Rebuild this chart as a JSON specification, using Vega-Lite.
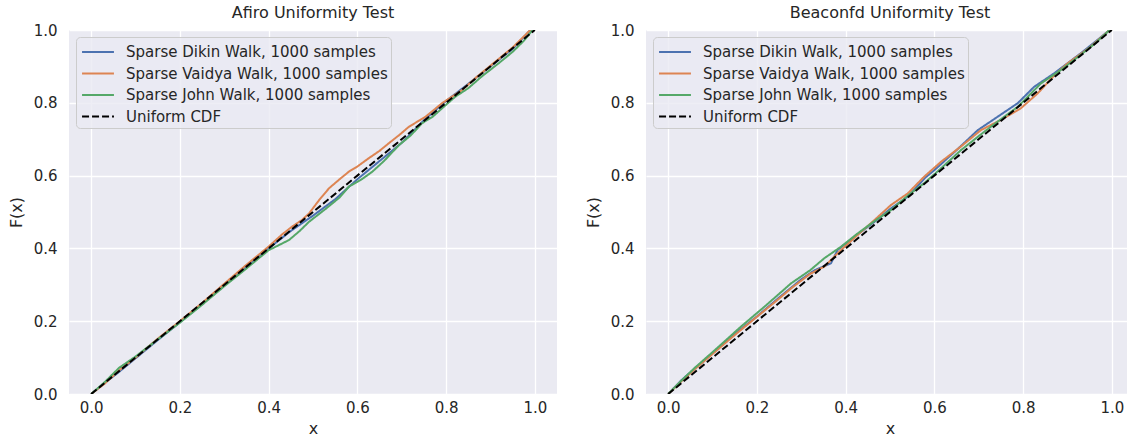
{
  "$schema": "https://vega.github.io/schema/vega-lite/v6.json",
  "background": "white",
  "padding": {"left": 8, "top": 5, "right": 0, "bottom": 0},
  "config": {
    "font": "DejaVu Sans",
    "view": {"fill": "#eaeaf2", "stroke": null},
    "axis": {"grid": true, "gridColor": "white", "gridWidth": 1.3, "domain": false, "ticks": false, "labelFontSize": 15, "labelColor": "#262626", "titleFontSize": 16, "titleFontWeight": "normal", "titleColor": "#262626"},
    "axisX": {"labelPadding": 6, "titlePadding": 5},
    "axisY": {"labelPadding": 12, "titlePadding": 9},
    "title": {"fontSize": 16, "fontWeight": "normal", "color": "#262626", "offset": 2},
    "legend": {"orient": "top-left", "offset": 7, "fillColor": "rgba(234,234,242,0.8)", "strokeColor": "#cccccc", "cornerRadius": 4, "padding": 3, "symbolOffset": 7, "labelFontSize": 15, "labelColor": "#262626", "labelLimit": 400, "symbolType": "M-1.45,0H1.45", "symbolStrokeWidth": 2, "symbolSize": 484, "rowPadding": 1.5, "labelOffset": 16}
  },
  "datasets": {
    "cdf": [
      {"panel": "Afiro", "series": "Sparse Dikin Walk, 1000 samples", "x": 0, "y": 0},
      {"panel": "Afiro", "series": "Sparse Dikin Walk, 1000 samples", "x": 0.03, "y": 0.03},
      {"panel": "Afiro", "series": "Sparse Dikin Walk, 1000 samples", "x": 0.06, "y": 0.058},
      {"panel": "Afiro", "series": "Sparse Dikin Walk, 1000 samples", "x": 0.1, "y": 0.098},
      {"panel": "Afiro", "series": "Sparse Dikin Walk, 1000 samples", "x": 0.15, "y": 0.148},
      {"panel": "Afiro", "series": "Sparse Dikin Walk, 1000 samples", "x": 0.2, "y": 0.197},
      {"panel": "Afiro", "series": "Sparse Dikin Walk, 1000 samples", "x": 0.25, "y": 0.247},
      {"panel": "Afiro", "series": "Sparse Dikin Walk, 1000 samples", "x": 0.3, "y": 0.298},
      {"panel": "Afiro", "series": "Sparse Dikin Walk, 1000 samples", "x": 0.35, "y": 0.35},
      {"panel": "Afiro", "series": "Sparse Dikin Walk, 1000 samples", "x": 0.4, "y": 0.4},
      {"panel": "Afiro", "series": "Sparse Dikin Walk, 1000 samples", "x": 0.45, "y": 0.448},
      {"panel": "Afiro", "series": "Sparse Dikin Walk, 1000 samples", "x": 0.5, "y": 0.49},
      {"panel": "Afiro", "series": "Sparse Dikin Walk, 1000 samples", "x": 0.55, "y": 0.535},
      {"panel": "Afiro", "series": "Sparse Dikin Walk, 1000 samples", "x": 0.6, "y": 0.59},
      {"panel": "Afiro", "series": "Sparse Dikin Walk, 1000 samples", "x": 0.625, "y": 0.615},
      {"panel": "Afiro", "series": "Sparse Dikin Walk, 1000 samples", "x": 0.65, "y": 0.64},
      {"panel": "Afiro", "series": "Sparse Dikin Walk, 1000 samples", "x": 0.7, "y": 0.69},
      {"panel": "Afiro", "series": "Sparse Dikin Walk, 1000 samples", "x": 0.75, "y": 0.752},
      {"panel": "Afiro", "series": "Sparse Dikin Walk, 1000 samples", "x": 0.8, "y": 0.805},
      {"panel": "Afiro", "series": "Sparse Dikin Walk, 1000 samples", "x": 0.85, "y": 0.852},
      {"panel": "Afiro", "series": "Sparse Dikin Walk, 1000 samples", "x": 0.9, "y": 0.9},
      {"panel": "Afiro", "series": "Sparse Dikin Walk, 1000 samples", "x": 0.95, "y": 0.948},
      {"panel": "Afiro", "series": "Sparse Dikin Walk, 1000 samples", "x": 0.99, "y": 1.0},
      {"panel": "Afiro", "series": "Sparse Vaidya Walk, 1000 samples", "x": 0, "y": 0},
      {"panel": "Afiro", "series": "Sparse Vaidya Walk, 1000 samples", "x": 0.03, "y": 0.028},
      {"panel": "Afiro", "series": "Sparse Vaidya Walk, 1000 samples", "x": 0.06, "y": 0.062},
      {"panel": "Afiro", "series": "Sparse Vaidya Walk, 1000 samples", "x": 0.1, "y": 0.1},
      {"panel": "Afiro", "series": "Sparse Vaidya Walk, 1000 samples", "x": 0.15, "y": 0.152},
      {"panel": "Afiro", "series": "Sparse Vaidya Walk, 1000 samples", "x": 0.2, "y": 0.2},
      {"panel": "Afiro", "series": "Sparse Vaidya Walk, 1000 samples", "x": 0.25, "y": 0.25},
      {"panel": "Afiro", "series": "Sparse Vaidya Walk, 1000 samples", "x": 0.3, "y": 0.303},
      {"panel": "Afiro", "series": "Sparse Vaidya Walk, 1000 samples", "x": 0.35, "y": 0.355},
      {"panel": "Afiro", "series": "Sparse Vaidya Walk, 1000 samples", "x": 0.4, "y": 0.405},
      {"panel": "Afiro", "series": "Sparse Vaidya Walk, 1000 samples", "x": 0.43, "y": 0.438},
      {"panel": "Afiro", "series": "Sparse Vaidya Walk, 1000 samples", "x": 0.453, "y": 0.46},
      {"panel": "Afiro", "series": "Sparse Vaidya Walk, 1000 samples", "x": 0.475, "y": 0.478},
      {"panel": "Afiro", "series": "Sparse Vaidya Walk, 1000 samples", "x": 0.491, "y": 0.496},
      {"panel": "Afiro", "series": "Sparse Vaidya Walk, 1000 samples", "x": 0.514, "y": 0.533},
      {"panel": "Afiro", "series": "Sparse Vaidya Walk, 1000 samples", "x": 0.536, "y": 0.565},
      {"panel": "Afiro", "series": "Sparse Vaidya Walk, 1000 samples", "x": 0.56, "y": 0.59},
      {"panel": "Afiro", "series": "Sparse Vaidya Walk, 1000 samples", "x": 0.581, "y": 0.611},
      {"panel": "Afiro", "series": "Sparse Vaidya Walk, 1000 samples", "x": 0.6, "y": 0.625},
      {"panel": "Afiro", "series": "Sparse Vaidya Walk, 1000 samples", "x": 0.626, "y": 0.648},
      {"panel": "Afiro", "series": "Sparse Vaidya Walk, 1000 samples", "x": 0.65, "y": 0.668},
      {"panel": "Afiro", "series": "Sparse Vaidya Walk, 1000 samples", "x": 0.671, "y": 0.689},
      {"panel": "Afiro", "series": "Sparse Vaidya Walk, 1000 samples", "x": 0.695, "y": 0.712},
      {"panel": "Afiro", "series": "Sparse Vaidya Walk, 1000 samples", "x": 0.716, "y": 0.734},
      {"panel": "Afiro", "series": "Sparse Vaidya Walk, 1000 samples", "x": 0.754, "y": 0.762},
      {"panel": "Afiro", "series": "Sparse Vaidya Walk, 1000 samples", "x": 0.791, "y": 0.799},
      {"panel": "Afiro", "series": "Sparse Vaidya Walk, 1000 samples", "x": 0.836, "y": 0.835},
      {"panel": "Afiro", "series": "Sparse Vaidya Walk, 1000 samples", "x": 0.87, "y": 0.872},
      {"panel": "Afiro", "series": "Sparse Vaidya Walk, 1000 samples", "x": 0.9, "y": 0.902},
      {"panel": "Afiro", "series": "Sparse Vaidya Walk, 1000 samples", "x": 0.95, "y": 0.952},
      {"panel": "Afiro", "series": "Sparse Vaidya Walk, 1000 samples", "x": 0.99, "y": 1.0},
      {"panel": "Afiro", "series": "Sparse John Walk, 1000 samples", "x": 0, "y": 0},
      {"panel": "Afiro", "series": "Sparse John Walk, 1000 samples", "x": 0.03, "y": 0.032},
      {"panel": "Afiro", "series": "Sparse John Walk, 1000 samples", "x": 0.063, "y": 0.072},
      {"panel": "Afiro", "series": "Sparse John Walk, 1000 samples", "x": 0.1, "y": 0.103},
      {"panel": "Afiro", "series": "Sparse John Walk, 1000 samples", "x": 0.15, "y": 0.15},
      {"panel": "Afiro", "series": "Sparse John Walk, 1000 samples", "x": 0.2, "y": 0.196},
      {"panel": "Afiro", "series": "Sparse John Walk, 1000 samples", "x": 0.25, "y": 0.245},
      {"panel": "Afiro", "series": "Sparse John Walk, 1000 samples", "x": 0.3, "y": 0.296},
      {"panel": "Afiro", "series": "Sparse John Walk, 1000 samples", "x": 0.35, "y": 0.345},
      {"panel": "Afiro", "series": "Sparse John Walk, 1000 samples", "x": 0.4, "y": 0.395},
      {"panel": "Afiro", "series": "Sparse John Walk, 1000 samples", "x": 0.446, "y": 0.423},
      {"panel": "Afiro", "series": "Sparse John Walk, 1000 samples", "x": 0.47, "y": 0.448},
      {"panel": "Afiro", "series": "Sparse John Walk, 1000 samples", "x": 0.491, "y": 0.473},
      {"panel": "Afiro", "series": "Sparse John Walk, 1000 samples", "x": 0.53, "y": 0.51},
      {"panel": "Afiro", "series": "Sparse John Walk, 1000 samples", "x": 0.56, "y": 0.54},
      {"panel": "Afiro", "series": "Sparse John Walk, 1000 samples", "x": 0.581, "y": 0.57},
      {"panel": "Afiro", "series": "Sparse John Walk, 1000 samples", "x": 0.61, "y": 0.59},
      {"panel": "Afiro", "series": "Sparse John Walk, 1000 samples", "x": 0.634, "y": 0.611},
      {"panel": "Afiro", "series": "Sparse John Walk, 1000 samples", "x": 0.66, "y": 0.64},
      {"panel": "Afiro", "series": "Sparse John Walk, 1000 samples", "x": 0.694, "y": 0.684},
      {"panel": "Afiro", "series": "Sparse John Walk, 1000 samples", "x": 0.72, "y": 0.71},
      {"panel": "Afiro", "series": "Sparse John Walk, 1000 samples", "x": 0.746, "y": 0.744},
      {"panel": "Afiro", "series": "Sparse John Walk, 1000 samples", "x": 0.77, "y": 0.762},
      {"panel": "Afiro", "series": "Sparse John Walk, 1000 samples", "x": 0.791, "y": 0.785},
      {"panel": "Afiro", "series": "Sparse John Walk, 1000 samples", "x": 0.821, "y": 0.817},
      {"panel": "Afiro", "series": "Sparse John Walk, 1000 samples", "x": 0.85, "y": 0.84},
      {"panel": "Afiro", "series": "Sparse John Walk, 1000 samples", "x": 0.88, "y": 0.872},
      {"panel": "Afiro", "series": "Sparse John Walk, 1000 samples", "x": 0.92, "y": 0.91},
      {"panel": "Afiro", "series": "Sparse John Walk, 1000 samples", "x": 0.95, "y": 0.94},
      {"panel": "Afiro", "series": "Sparse John Walk, 1000 samples", "x": 0.975, "y": 0.97},
      {"panel": "Afiro", "series": "Sparse John Walk, 1000 samples", "x": 0.995, "y": 1.0},
      {"panel": "Afiro", "series": "Uniform CDF", "x": 0, "y": 0},
      {"panel": "Afiro", "series": "Uniform CDF", "x": 1, "y": 1},
      {"panel": "Beaconfd", "series": "Sparse Dikin Walk, 1000 samples", "x": 0, "y": 0},
      {"panel": "Beaconfd", "series": "Sparse Dikin Walk, 1000 samples", "x": 0.03, "y": 0.038},
      {"panel": "Beaconfd", "series": "Sparse Dikin Walk, 1000 samples", "x": 0.06, "y": 0.07},
      {"panel": "Beaconfd", "series": "Sparse Dikin Walk, 1000 samples", "x": 0.1, "y": 0.112},
      {"panel": "Beaconfd", "series": "Sparse Dikin Walk, 1000 samples", "x": 0.15, "y": 0.165},
      {"panel": "Beaconfd", "series": "Sparse Dikin Walk, 1000 samples", "x": 0.2, "y": 0.213},
      {"panel": "Beaconfd", "series": "Sparse Dikin Walk, 1000 samples", "x": 0.25, "y": 0.265},
      {"panel": "Beaconfd", "series": "Sparse Dikin Walk, 1000 samples", "x": 0.3, "y": 0.315},
      {"panel": "Beaconfd", "series": "Sparse Dikin Walk, 1000 samples", "x": 0.33, "y": 0.34},
      {"panel": "Beaconfd", "series": "Sparse Dikin Walk, 1000 samples", "x": 0.367, "y": 0.359},
      {"panel": "Beaconfd", "series": "Sparse Dikin Walk, 1000 samples", "x": 0.382, "y": 0.396},
      {"panel": "Beaconfd", "series": "Sparse Dikin Walk, 1000 samples", "x": 0.42, "y": 0.432},
      {"panel": "Beaconfd", "series": "Sparse Dikin Walk, 1000 samples", "x": 0.465, "y": 0.473},
      {"panel": "Beaconfd", "series": "Sparse Dikin Walk, 1000 samples", "x": 0.5, "y": 0.508},
      {"panel": "Beaconfd", "series": "Sparse Dikin Walk, 1000 samples", "x": 0.54, "y": 0.542},
      {"panel": "Beaconfd", "series": "Sparse Dikin Walk, 1000 samples", "x": 0.58, "y": 0.595},
      {"panel": "Beaconfd", "series": "Sparse Dikin Walk, 1000 samples", "x": 0.6, "y": 0.615},
      {"panel": "Beaconfd", "series": "Sparse Dikin Walk, 1000 samples", "x": 0.65, "y": 0.67},
      {"panel": "Beaconfd", "series": "Sparse Dikin Walk, 1000 samples", "x": 0.698, "y": 0.725},
      {"panel": "Beaconfd", "series": "Sparse Dikin Walk, 1000 samples", "x": 0.743, "y": 0.762},
      {"panel": "Beaconfd", "series": "Sparse Dikin Walk, 1000 samples", "x": 0.788, "y": 0.799},
      {"panel": "Beaconfd", "series": "Sparse Dikin Walk, 1000 samples", "x": 0.825, "y": 0.844},
      {"panel": "Beaconfd", "series": "Sparse Dikin Walk, 1000 samples", "x": 0.87, "y": 0.881},
      {"panel": "Beaconfd", "series": "Sparse Dikin Walk, 1000 samples", "x": 0.93, "y": 0.936},
      {"panel": "Beaconfd", "series": "Sparse Dikin Walk, 1000 samples", "x": 0.968, "y": 0.973},
      {"panel": "Beaconfd", "series": "Sparse Dikin Walk, 1000 samples", "x": 0.995, "y": 1.0},
      {"panel": "Beaconfd", "series": "Sparse Vaidya Walk, 1000 samples", "x": 0, "y": 0},
      {"panel": "Beaconfd", "series": "Sparse Vaidya Walk, 1000 samples", "x": 0.03, "y": 0.035},
      {"panel": "Beaconfd", "series": "Sparse Vaidya Walk, 1000 samples", "x": 0.06, "y": 0.068},
      {"panel": "Beaconfd", "series": "Sparse Vaidya Walk, 1000 samples", "x": 0.1, "y": 0.11},
      {"panel": "Beaconfd", "series": "Sparse Vaidya Walk, 1000 samples", "x": 0.15, "y": 0.162},
      {"panel": "Beaconfd", "series": "Sparse Vaidya Walk, 1000 samples", "x": 0.2, "y": 0.212},
      {"panel": "Beaconfd", "series": "Sparse Vaidya Walk, 1000 samples", "x": 0.25, "y": 0.262},
      {"panel": "Beaconfd", "series": "Sparse Vaidya Walk, 1000 samples", "x": 0.277, "y": 0.29},
      {"panel": "Beaconfd", "series": "Sparse Vaidya Walk, 1000 samples", "x": 0.32, "y": 0.33},
      {"panel": "Beaconfd", "series": "Sparse Vaidya Walk, 1000 samples", "x": 0.352, "y": 0.35},
      {"panel": "Beaconfd", "series": "Sparse Vaidya Walk, 1000 samples", "x": 0.39, "y": 0.396},
      {"panel": "Beaconfd", "series": "Sparse Vaidya Walk, 1000 samples", "x": 0.43, "y": 0.44},
      {"panel": "Beaconfd", "series": "Sparse Vaidya Walk, 1000 samples", "x": 0.465, "y": 0.478},
      {"panel": "Beaconfd", "series": "Sparse Vaidya Walk, 1000 samples", "x": 0.502, "y": 0.519},
      {"panel": "Beaconfd", "series": "Sparse Vaidya Walk, 1000 samples", "x": 0.54, "y": 0.551},
      {"panel": "Beaconfd", "series": "Sparse Vaidya Walk, 1000 samples", "x": 0.577, "y": 0.597},
      {"panel": "Beaconfd", "series": "Sparse Vaidya Walk, 1000 samples", "x": 0.615, "y": 0.638},
      {"panel": "Beaconfd", "series": "Sparse Vaidya Walk, 1000 samples", "x": 0.66, "y": 0.68},
      {"panel": "Beaconfd", "series": "Sparse Vaidya Walk, 1000 samples", "x": 0.705, "y": 0.725},
      {"panel": "Beaconfd", "series": "Sparse Vaidya Walk, 1000 samples", "x": 0.75, "y": 0.753},
      {"panel": "Beaconfd", "series": "Sparse Vaidya Walk, 1000 samples", "x": 0.795, "y": 0.785},
      {"panel": "Beaconfd", "series": "Sparse Vaidya Walk, 1000 samples", "x": 0.833, "y": 0.826},
      {"panel": "Beaconfd", "series": "Sparse Vaidya Walk, 1000 samples", "x": 0.87, "y": 0.875},
      {"panel": "Beaconfd", "series": "Sparse Vaidya Walk, 1000 samples", "x": 0.9, "y": 0.908},
      {"panel": "Beaconfd", "series": "Sparse Vaidya Walk, 1000 samples", "x": 0.95, "y": 0.952},
      {"panel": "Beaconfd", "series": "Sparse Vaidya Walk, 1000 samples", "x": 0.995, "y": 1.0},
      {"panel": "Beaconfd", "series": "Sparse John Walk, 1000 samples", "x": 0, "y": 0},
      {"panel": "Beaconfd", "series": "Sparse John Walk, 1000 samples", "x": 0.03, "y": 0.037},
      {"panel": "Beaconfd", "series": "Sparse John Walk, 1000 samples", "x": 0.06, "y": 0.072},
      {"panel": "Beaconfd", "series": "Sparse John Walk, 1000 samples", "x": 0.1, "y": 0.115},
      {"panel": "Beaconfd", "series": "Sparse John Walk, 1000 samples", "x": 0.164, "y": 0.185},
      {"panel": "Beaconfd", "series": "Sparse John Walk, 1000 samples", "x": 0.22, "y": 0.243},
      {"panel": "Beaconfd", "series": "Sparse John Walk, 1000 samples", "x": 0.277, "y": 0.304},
      {"panel": "Beaconfd", "series": "Sparse John Walk, 1000 samples", "x": 0.32, "y": 0.34},
      {"panel": "Beaconfd", "series": "Sparse John Walk, 1000 samples", "x": 0.352, "y": 0.373},
      {"panel": "Beaconfd", "series": "Sparse John Walk, 1000 samples", "x": 0.39, "y": 0.405},
      {"panel": "Beaconfd", "series": "Sparse John Walk, 1000 samples", "x": 0.427, "y": 0.441},
      {"panel": "Beaconfd", "series": "Sparse John Walk, 1000 samples", "x": 0.465, "y": 0.475},
      {"panel": "Beaconfd", "series": "Sparse John Walk, 1000 samples", "x": 0.502, "y": 0.505},
      {"panel": "Beaconfd", "series": "Sparse John Walk, 1000 samples", "x": 0.54, "y": 0.545},
      {"panel": "Beaconfd", "series": "Sparse John Walk, 1000 samples", "x": 0.577, "y": 0.579},
      {"panel": "Beaconfd", "series": "Sparse John Walk, 1000 samples", "x": 0.615, "y": 0.62},
      {"panel": "Beaconfd", "series": "Sparse John Walk, 1000 samples", "x": 0.66, "y": 0.67},
      {"panel": "Beaconfd", "series": "Sparse John Walk, 1000 samples", "x": 0.712, "y": 0.72},
      {"panel": "Beaconfd", "series": "Sparse John Walk, 1000 samples", "x": 0.75, "y": 0.755},
      {"panel": "Beaconfd", "series": "Sparse John Walk, 1000 samples", "x": 0.788, "y": 0.789},
      {"panel": "Beaconfd", "series": "Sparse John Walk, 1000 samples", "x": 0.84, "y": 0.853},
      {"panel": "Beaconfd", "series": "Sparse John Walk, 1000 samples", "x": 0.885, "y": 0.89},
      {"panel": "Beaconfd", "series": "Sparse John Walk, 1000 samples", "x": 0.93, "y": 0.932},
      {"panel": "Beaconfd", "series": "Sparse John Walk, 1000 samples", "x": 0.962, "y": 0.963},
      {"panel": "Beaconfd", "series": "Sparse John Walk, 1000 samples", "x": 0.995, "y": 1.0},
      {"panel": "Beaconfd", "series": "Uniform CDF", "x": 0, "y": 0},
      {"panel": "Beaconfd", "series": "Uniform CDF", "x": 1, "y": 1}
    ]
  },
  "spacing": 28,
  "resolve": {"legend": {"color": "independent", "strokeDash": "independent"}, "scale": {"color": "independent", "strokeDash": "independent"}},
  "hconcat": [
    {
      "title": "Afiro Uniformity Test",
      "width": 488,
      "height": 364,
      "data": {"name": "cdf"},
      "transform": [{"filter": "datum.panel === 'Afiro'"}],
      "mark": {"type": "line", "strokeWidth": 2, "clip": true},
      "encoding": {
        "x": {"field": "x", "type": "quantitative", "title": "x", "scale": {"domain": [-0.05, 1.05], "nice": false, "zero": false}, "axis": {"values": [0, 0.2, 0.4, 0.6, 0.8, 1.0], "format": ".1f"}},
        "y": {"field": "y", "type": "quantitative", "title": "F(x)", "scale": {"domain": [0, 1], "nice": false}, "axis": {"values": [0, 0.2, 0.4, 0.6, 0.8, 1.0], "format": ".1f"}},
        "color": {"field": "series", "type": "nominal", "title": null, "scale": {"domain": ["Sparse Dikin Walk, 1000 samples", "Sparse Vaidya Walk, 1000 samples", "Sparse John Walk, 1000 samples", "Uniform CDF"], "range": ["#4c72b0", "#dd8452", "#55a868", "#000000"]}},
        "strokeDash": {"field": "series", "type": "nominal", "title": null, "scale": {"domain": ["Sparse Dikin Walk, 1000 samples", "Sparse Vaidya Walk, 1000 samples", "Sparse John Walk, 1000 samples", "Uniform CDF"], "range": [[1, 0], [1, 0], [1, 0], [7, 3]]}},
        "order": {"field": "x"}
      }
    },
    {
      "title": "Beaconfd Uniformity Test",
      "width": 488,
      "height": 364,
      "data": {"name": "cdf"},
      "transform": [{"filter": "datum.panel === 'Beaconfd'"}],
      "mark": {"type": "line", "strokeWidth": 2, "clip": true},
      "encoding": {
        "x": {"field": "x", "type": "quantitative", "title": "x", "scale": {"domain": [-0.05, 1.05], "nice": false, "zero": false}, "axis": {"values": [0, 0.2, 0.4, 0.6, 0.8, 1.0], "format": ".1f"}},
        "y": {"field": "y", "type": "quantitative", "title": "F(x)", "scale": {"domain": [0, 1], "nice": false}, "axis": {"values": [0, 0.2, 0.4, 0.6, 0.8, 1.0], "format": ".1f"}},
        "color": {"field": "series", "type": "nominal", "title": null, "scale": {"domain": ["Sparse Dikin Walk, 1000 samples", "Sparse Vaidya Walk, 1000 samples", "Sparse John Walk, 1000 samples", "Uniform CDF"], "range": ["#4c72b0", "#dd8452", "#55a868", "#000000"]}},
        "strokeDash": {"field": "series", "type": "nominal", "title": null, "scale": {"domain": ["Sparse Dikin Walk, 1000 samples", "Sparse Vaidya Walk, 1000 samples", "Sparse John Walk, 1000 samples", "Uniform CDF"], "range": [[1, 0], [1, 0], [1, 0], [7, 3]]}},
        "order": {"field": "x"}
      }
    }
  ]
}
